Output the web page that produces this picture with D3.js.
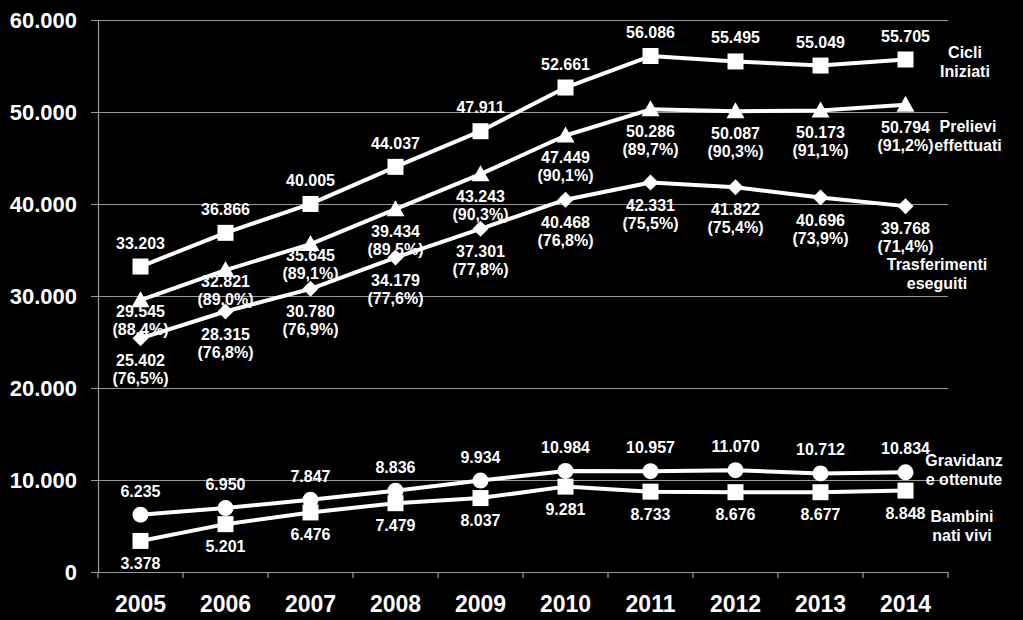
<!DOCTYPE html>
<html><head><meta charset="utf-8">
<script src="https://cdn.jsdelivr.net/npm/d3@7"></script>
<style>html,body{margin:0;padding:0;background:#000;}svg{display:block;}</style>
</head><body>
<svg id="chart" width="1023" height="620"></svg>
<script>
const years = ["2005","2006","2007","2008","2009","2010","2011","2012","2013","2014"];
const yTicks = [0,10000,20000,30000,40000,50000,60000];
const cicli = [33203,36866,40005,44037,47911,52661,56086,55495,55049,55705];
const prelievi = [29545,32821,35645,39434,43243,47449,50286,50087,50173,50794];
const prelieviPct = [88.4,89.0,89.1,89.5,90.3,90.1,89.7,90.3,91.1,91.2];
const trasferimenti = [25402,28315,30780,34179,37301,40468,42331,41822,40696,39768];
const trasferimentiPct = [76.5,76.8,76.9,77.6,77.8,76.8,75.5,75.4,73.9,71.4];
const gravidanze = [6235,6950,7847,8836,9934,10984,10957,11070,10712,10834];
const bambini = [3378,5201,6476,7479,8037,9281,8733,8676,8677,8848];
const seriesNames = [["Cicli","Iniziati"],["Prelievi","effettuati"],["Trasferimenti","eseguiti"],["Gravidanz","e ottenute"],["Bambini","nati vivi"]];

const svg = d3.select("#chart");
const W = 1023, H = 620;
svg.append("rect").attr("width",W).attr("height",H).attr("fill","#000");
const m = {left:98, right:948, top:20, bottom:572};
const x = d3.scaleBand().domain(years).range([m.left,m.right]);
const y = d3.scaleLinear().domain([0,60000]).range([m.bottom,m.top]);
const font = "'Liberation Sans', Arial, sans-serif";
const fmtN = v => d3.format(",")(v).replace(/,/g,".");
const fmtP = v => "(" + v.toFixed(1).replace(".",",") + "%)";
const gridCol = "#9a9a9a";

// gridlines + y labels
const yAxis = d3.axisLeft(y).tickValues(yTicks).tickSize(-(m.right-m.left)).tickSizeOuter(0)
  .tickFormat(v => v===0 ? "0" : fmtN(v)).tickPadding(14);
const gy = svg.append("g").attr("transform",`translate(${m.left},0)`).call(yAxis);
gy.select(".domain").attr("stroke",gridCol).attr("stroke-width",1.2);
gy.selectAll(".tick line").attr("stroke",gridCol).attr("stroke-width",1.2).attr("x1",-7);
gy.selectAll(".tick text").attr("fill","#fff").attr("font-family",font).attr("font-weight","bold")
  .attr("font-size",22).attr("x",-21).attr("dy","0.35em");

// x axis
const xAxis = d3.axisBottom(x).tickSize(0).tickPadding(24);
const gx = svg.append("g").attr("transform",`translate(0,${m.bottom})`).call(xAxis);
gx.select(".domain").attr("stroke",gridCol).attr("stroke-width",1.2);
gx.selectAll(".tick text").attr("fill","#fff").attr("font-family",font).attr("font-weight","bold").attr("font-size",23);
// tick marks at band boundaries
const bounds = years.map(d => x(d)).concat([m.right]);
svg.append("g").selectAll("line").data(bounds).join("line")
  .attr("x1",d=>d).attr("x2",d=>d).attr("y1",m.bottom).attr("y2",m.bottom+6)
  .attr("stroke",gridCol).attr("stroke-width",1.2);

const cx = d => x(d) + x.bandwidth()/2;
const line = d3.line().x((d,i)=>cx(years[i])).y(d=>y(d));

function drawSeries(vals, shape){
  svg.append("path").datum(vals).attr("d",line).attr("fill","none").attr("stroke","#fff").attr("stroke-width",4).attr("stroke-linejoin","round");
  const g = svg.append("g");
  vals.forEach((v,i)=>{
    const px = cx(years[i]), py = y(v);
    if(shape==="square") g.append("rect").attr("x",px-8).attr("y",py-8).attr("width",16).attr("height",16).attr("fill","#fff");
    else if(shape==="circle") g.append("circle").attr("cx",px).attr("cy",py).attr("r",8).attr("fill","#fff");
    else if(shape==="triangle") g.append("path").attr("transform",`translate(${px},${py})`).attr("d","M0,-9L9,7L-9,7Z").attr("fill","#fff");
    else if(shape==="diamond") g.append("path").attr("transform",`translate(${px},${py})`).attr("d","M0,-8L8,0L0,8L-8,0Z").attr("fill","#fff");
  });
}
function labels(vals, pct, dyFn){
  const g = svg.append("g").attr("font-family",font).attr("font-weight","bold").attr("font-size",16).attr("fill","#fff").attr("text-anchor","middle");
  vals.forEach((v,i)=>{
    const px = cx(years[i]), py = y(v) + dyFn(i);
    g.append("text").attr("x",px).attr("y",py).text(fmtN(v));
    if(pct) g.append("text").attr("x",px).attr("y",py+18).text(fmtP(pct[i]));
  });
}

drawSeries(cicli,"square");
drawSeries(prelievi,"triangle");
drawSeries(trasferimenti,"diamond");
drawSeries(gravidanze,"circle");
drawSeries(bambini,"square");

labels(cicli,null,()=>-18);
labels(prelievi,prelieviPct,i=> i<3 ? 17 : 28);
labels(trasferimenti,trasferimentiPct,()=>28);
labels(gravidanze,null,()=>-18);
labels(bambini,null,()=>28);

// series names
const nameAnchors = [[965,58],[968,132],[937,270],[964,466],[962,522]];
const ng = svg.append("g").attr("font-family",font).attr("font-weight","bold").attr("font-size",16).attr("fill","#fff").attr("text-anchor","middle");
seriesNames.forEach((n,k)=>{
  n.forEach((t,j)=>{
    ng.append("text").attr("x",nameAnchors[k][0]).attr("y",nameAnchors[k][1]+j*19).text(t);
  });
});
</script>
</body></html>
